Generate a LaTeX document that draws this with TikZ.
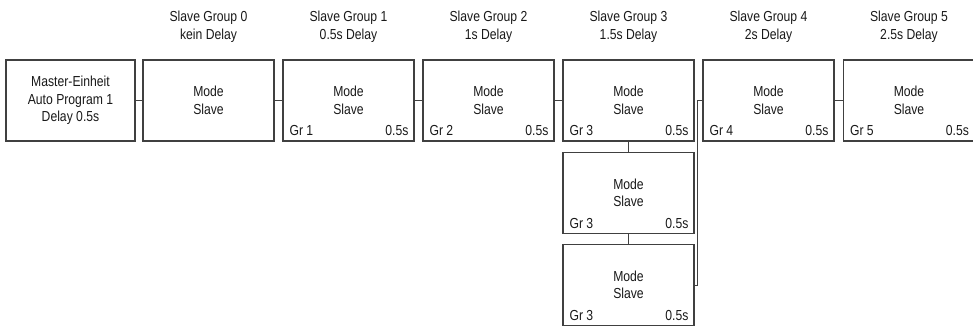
\documentclass[tikz,border=0pt]{standalone}
\usepackage{fontspec}
\setmainfont{Liberation Sans}[FakeStretch=0.84]
\usetikzlibrary{positioning}

\begin{document}
\begin{tikzpicture}[x=1pt,y=-1pt,
	box/.style={draw=black!75,line width=1.3pt,minimum width=131pt,minimum height=81pt,
		inner sep=0pt,align=center,text=black!90,font=\fontsize{14.5}{17.5}\selectfont},
	head/.style={align=center,text=black!90,font=\fontsize{14.5}{18}\selectfont},
	tag/.style={inner sep=0pt,text=black!90,font=\fontsize{14.5}{17.5}\selectfont},
	link/.style={draw=black!75,line width=0.9pt}]
	
	\useasboundingbox (0,0) rectangle (973,328);
	
	% Master
	\node[box,minimum width=129pt] (master) at (70.5,100.5) {Master-Einheit\\Auto Program 1\\Delay 0.5s};
	
	% Slave boxes
	\node[box] (s0) at (208.5,100.5) {Mode\\Slave};
	\node[box] (s1) at (348.5,100.5) {Mode\\Slave};
	\node[box] (s2) at (488.5,100.5) {Mode\\Slave};
	\node[box] (s3) at (628.5,100.5) {Mode\\Slave};
	\node[box] (s3b) at (628.5,193) {Mode\\Slave};
	\node[box] (s3c) at (628.5,285) {Mode\\Slave};
	\node[box] (s4) at (768.5,100.5) {Mode\\Slave};
	\node[box] (s5) at (909,100.5) {Mode\\Slave};
	
	% Group headers
	\node[head] (h0) at (208.5,27) {Slave Group 0\\kein Delay};
	\node[head] (h1) at (348.5,27) {Slave Group 1\\0.5s Delay};
	\node[head] (h2) at (488.5,27) {Slave Group 2\\1s Delay};
	\node[head] (h3) at (628.5,27) {Slave Group 3\\1.5s Delay};
	\node[head] (h4) at (768.5,27) {Slave Group 4\\2s Delay};
	\node[head] (h5) at (909,27) {Slave Group 5\\2.5s Delay};
	
	% Group and delay tags
	\node[tag,anchor=base west] (g1) at ([shift={(7pt,6pt)}]s1.south west) {Gr 1};
	\node[tag,anchor=base east] (d1) at ([shift={(-6pt,6pt)}]s1.south east) {0.5s};
	\node[tag,anchor=base west] (g2) at ([shift={(7pt,6pt)}]s2.south west) {Gr 2};
	\node[tag,anchor=base east] (d2) at ([shift={(-6pt,6pt)}]s2.south east) {0.5s};
	\node[tag,anchor=base west] (g3) at ([shift={(7pt,6pt)}]s3.south west) {Gr 3};
	\node[tag,anchor=base east] (d3) at ([shift={(-6pt,6pt)}]s3.south east) {0.5s};
	\node[tag,anchor=base west] (g3b) at ([shift={(7pt,6pt)}]s3b.south west) {Gr 3};
	\node[tag,anchor=base east] (d3b) at ([shift={(-6pt,6pt)}]s3b.south east) {0.5s};
	\node[tag,anchor=base west] (g3c) at ([shift={(7pt,6pt)}]s3c.south west) {Gr 3};
	\node[tag,anchor=base east] (d3c) at ([shift={(-6pt,6pt)}]s3c.south east) {0.5s};
	\node[tag,anchor=base west] (g4) at ([shift={(7pt,6pt)}]s4.south west) {Gr 4};
	\node[tag,anchor=base east] (d4) at ([shift={(-6pt,6pt)}]s4.south east) {0.5s};
	\node[tag,anchor=base west] (g5) at ([shift={(7pt,6pt)}]s5.south west) {Gr 5};
	\node[tag,anchor=base east] (d5) at ([shift={(-6pt,6pt)}]s5.south east) {0.5s};
	
	% Links
	\draw[link] (master) -- (s0);
	\draw[link] (s0) -- (s1);
	\draw[link] (s1) -- (s2);
	\draw[link] (s2) -- (s3);
	\draw[link] (s3) -- (s3b);
	\draw[link] (s3b) -- (s3c);
	\draw[link] (s4) -- (s5);
	
	\coordinate (bend) at (697,285);
	\draw[link] (s3c.east) -- (bend) |- (s4.west);
	
\end{tikzpicture}
\end{document}
